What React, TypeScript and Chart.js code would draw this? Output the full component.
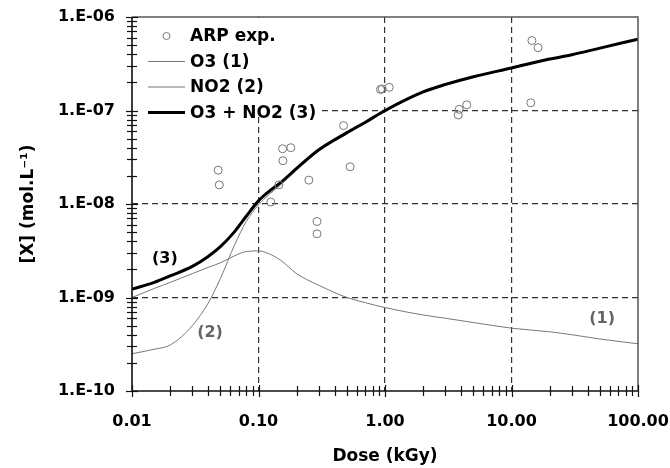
import React, { useEffect, useRef } from 'react';
import { Chart, registerables } from 'chart.js';

Chart.register(...registerables);

// ---- data ----
const doseGrid = [0.01, 0.015, 0.02, 0.03, 0.04, 0.05, 0.065, 0.08, 0.1, 0.12, 0.15, 0.2, 0.3, 0.5, 0.7, 1, 2, 3, 5, 10, 20, 30, 50, 100];
const o3Values = [1.0e-9, 1.25e-9, 1.45e-9, 1.8e-9, 2.1e-9, 2.35e-9, 2.8e-9, 3.1e-9, 3.15e-9, 2.95e-9, 2.5e-9, 1.8e-9, 1.35e-9, 1.0e-9, 8.8e-10, 7.8e-10, 6.5e-10, 6.0e-10, 5.4e-10, 4.7e-10, 4.3e-10, 4.0e-10, 3.6e-10, 3.2e-10];
const no2Values = [2.5e-10, 2.8e-10, 3.1e-10, 5.0e-10, 8.7e-10, 1.6e-9, 3.7e-9, 6.5e-9, 9.8e-9, 1.25e-8, 1.6e-8, 2.3e-8, 3.7e-8, 5.6e-8, 7.3e-8, 9.7e-8, 1.55e-7, 1.85e-7, 2.25e-7, 2.8e-7, 3.5e-7, 3.9e-7, 4.6e-7, 5.7e-7];
const totalValues = [1.23e-9, 1.45e-9, 1.7e-9, 2.15e-9, 2.75e-9, 3.5e-9, 5.1e-9, 7.4e-9, 1.08e-8, 1.35e-8, 1.7e-8, 2.4e-8, 3.8e-8, 5.8e-8, 7.5e-8, 1.0e-7, 1.58e-7, 1.9e-7, 2.3e-7, 2.85e-7, 3.55e-7, 3.95e-7, 4.65e-7, 5.8e-7];

const expDose = [0.048, 0.049, 0.125, 0.145, 0.155, 0.18, 0.156, 0.25, 0.29, 0.29, 0.47, 0.53, 0.92, 0.95, 1.08, 3.79, 3.86, 4.43, 14.2, 14.5, 16.2];
const expValues = [2.3e-8, 1.6e-8, 1.05e-8, 1.6e-8, 3.9e-8, 4.0e-8, 2.9e-8, 1.8e-8, 6.5e-9, 4.8e-9, 6.9e-8, 2.5e-8, 1.68e-7, 1.7e-7, 1.77e-7, 8.95e-8, 1.03e-7, 1.15e-7, 1.21e-7, 5.6e-7, 4.7e-7];

const xMajorTicks = [0.01, 0.1, 1, 10, 100];
const xTickLabels = ['0.01', '0.10', '1.00', '10.00', '100.00'];
const yMajorTicks = [1e-10, 1e-9, 1e-8, 1e-7, 1e-6];
const yTickLabels = ['1.E-10', '1.E-09', '1.E-08', '1.E-07', '1.E-06'];

const legendLabels = ['ARP exp.', 'O3 (1)', 'NO2 (2)', 'O3 + NO2 (3)'];
const curveLabels = ['(1)', '(2)', '(3)'];
const curveLabelDose = [52, 0.0414, 0.0182];
const curveLabelValue = [5.9e-10, 4.2e-10, 2.6e-9];
const curveLabelColors = ['#666', '#666', '#000'];

const xTitle = 'Dose (kGy)';
const yTitle = '[X] (mol.L\u207B\u00B9)';

const FONT = '"DejaVu Sans", sans-serif';
const GRAY = '#777';

function sameLog(a: number, b: number) {
  return Math.abs(Math.log10(a) - Math.log10(b)) < 1e-6;
}

const decorPlugin = {
  id: 'decor',
  beforeDatasetsDraw(chart: any) {
    const { ctx, chartArea } = chart;
    ctx.save();
    ctx.fillStyle = '#fff';
    ctx.fillRect(chartArea.left + 1, chartArea.top + 1, 188, 99);
    ctx.restore();
  },
  afterDraw(chart: any) {
    const { ctx, chartArea } = chart;
    const xs = chart.scales.x;
    const ys = chart.scales.y;
    const { left, right, top, bottom } = chartArea;
    ctx.save();
    // frame
    ctx.strokeStyle = '#555';
    ctx.lineWidth = 1.5;
    ctx.beginPath();
    ctx.moveTo(left, top);
    ctx.lineTo(right, top);
    ctx.lineTo(right, bottom);
    ctx.stroke();
    ctx.strokeStyle = '#111';
    ctx.lineWidth = 1.6;
    ctx.beginPath();
    ctx.moveTo(left, top);
    ctx.lineTo(left, bottom);
    ctx.lineTo(right, bottom);
    ctx.stroke();
    // tick marks crossing the axes
    ctx.lineWidth = 1.2;
    ctx.strokeStyle = '#111';
    for (let e = -2; e <= 2; e++) {
      for (let k = 1; k <= 9; k++) {
        const v = k * Math.pow(10, e);
        if (v < 0.0099 || v > 100.01) continue;
        const px = Math.round(xs.getPixelForValue(v)) + 0.5;
        const len = k === 1 ? 6 : 5;
        ctx.beginPath();
        ctx.moveTo(px, bottom - len);
        ctx.lineTo(px, bottom + len);
        ctx.stroke();
      }
    }
    for (let e = -10; e <= -6; e++) {
      for (let k = 1; k <= 9; k++) {
        const v = k * Math.pow(10, e);
        if (v < 0.99e-10 || v > 1.01e-6) continue;
        const py = Math.round(ys.getPixelForValue(v)) + 0.5;
        const len = k === 1 ? 6 : 5;
        ctx.beginPath();
        ctx.moveTo(left - len, py);
        ctx.lineTo(left + len, py);
        ctx.stroke();
      }
    }
    // legend
    ctx.font = 'bold 17px ' + FONT;
    ctx.textBaseline = 'middle';
    ctx.textAlign = 'left';
    ctx.fillStyle = '#000';
    const lx0 = left + 16;
    const lx1 = left + 53;
    const tx = left + 58;
    legendLabels.forEach((label, i) => {
      const y = top + 19 + i * 25.5;
      if (i === 0) {
        ctx.strokeStyle = GRAY;
        ctx.lineWidth = 1;
        ctx.beginPath();
        ctx.arc((lx0 + lx1) / 2, y, 3.5, 0, Math.PI * 2);
        ctx.stroke();
      } else {
        ctx.strokeStyle = i === 3 ? '#000' : GRAY;
        ctx.lineWidth = i === 3 ? 3 : 1;
        ctx.beginPath();
        ctx.moveTo(lx0, y);
        ctx.lineTo(lx1, y);
        ctx.stroke();
      }
      ctx.fillStyle = '#000';
      ctx.fillText(label, tx, y + 1);
    });
    // curve labels
    ctx.textAlign = 'center';
    ctx.font = 'bold 16px ' + FONT;
    curveLabels.forEach((label, i) => {
      ctx.fillStyle = curveLabelColors[i];
      ctx.fillText(label, xs.getPixelForValue(curveLabelDose[i]), ys.getPixelForValue(curveLabelValue[i]));
    });
    ctx.restore();
  },
};

export default function App() {
  const ref = useRef<HTMLCanvasElement | null>(null);
  useEffect(() => {
    document.body.style.margin = '0';
    const canvas = ref.current;
    if (!canvas) return;
    const toPts = (vals: number[]) => doseGrid.map((d, i) => ({ x: d, y: vals[i] }));
    const chart = new Chart(canvas, {
      type: 'line',
      data: {
        datasets: [
          {
            label: legendLabels[0],
            data: expDose.map((d, i) => ({ x: d, y: expValues[i] })),
            showLine: false,
            pointStyle: 'circle',
            pointRadius: 4,
            pointBorderWidth: 1,
            pointBorderColor: GRAY,
            pointBackgroundColor: 'rgba(255,255,255,0)',
            borderColor: GRAY,
            order: 0,
          },
          {
            label: legendLabels[1],
            data: toPts(o3Values),
            borderColor: GRAY,
            borderWidth: 1,
            pointRadius: 0,
            cubicInterpolationMode: 'monotone',
            fill: false,
            order: 3,
          },
          {
            label: legendLabels[2],
            data: toPts(no2Values),
            borderColor: GRAY,
            borderWidth: 1,
            pointRadius: 0,
            cubicInterpolationMode: 'monotone',
            fill: false,
            order: 2,
          },
          {
            label: legendLabels[3],
            data: toPts(totalValues),
            borderColor: '#000',
            borderWidth: 3,
            pointRadius: 0,
            cubicInterpolationMode: 'monotone',
            fill: false,
            order: 1,
          },
        ],
      },
      options: {
        responsive: false,
        animation: false,
        devicePixelRatio: 1,
        layout: { padding: { top: 17, right: 32, left: 0, bottom: 0 } },
        plugins: { legend: { display: false }, tooltip: { enabled: false } },
        scales: {
          x: {
            type: 'logarithmic',
            position: 'bottom',
            min: 0.01,
            max: 100,
            afterBuildTicks: (s: any) => {
              s.ticks = xMajorTicks.map((v) => ({ value: v, major: true }));
            },
            afterFit: (s: any) => {
              s.height = 77;
              s.paddingLeft = 0;
              s.paddingRight = 0;
              s.paddingTop = 0;
              s.paddingBottom = 0;
            },
            ticks: {
              autoSkip: false,
              maxRotation: 0,
              padding: 21,
              color: '#000',
              font: { family: FONT, size: 16, weight: 'bold' },
              callback: (v: any) => {
                const i = xMajorTicks.findIndex((t) => sameLog(t, Number(v)));
                return i >= 0 ? xTickLabels[i] : '';
              },
            },
            grid: {
              drawTicks: false,
              lineWidth: 1.2,
              color: (c: any) => {
                const v = c.tick ? c.tick.value : 0;
                return v > 0.011 && v < 99 ? '#333' : 'rgba(0,0,0,0)';
              },
            },
            border: { display: false, dash: [6, 4] },
            title: {
              display: true,
              text: xTitle,
              color: '#000',
              font: { family: FONT, size: 17, weight: 'bold' },
              padding: { top: 0, bottom: 1 },
            },
          },
          y: {
            type: 'logarithmic',
            position: 'left',
            min: 1e-10,
            max: 1e-6,
            afterBuildTicks: (s: any) => {
              s.ticks = yMajorTicks.map((v) => ({ value: v, major: true }));
            },
            afterFit: (s: any) => {
              s.width = 132;
              s.paddingLeft = 0;
              s.paddingRight = 0;
              s.paddingTop = 0;
              s.paddingBottom = 0;
            },
            ticks: {
              autoSkip: false,
              padding: 17,
              color: '#000',
              font: { family: FONT, size: 16, weight: 'bold' },
              callback: (v: any) => {
                const i = yMajorTicks.findIndex((t) => sameLog(t, Number(v)));
                return i >= 0 ? yTickLabels[i] : '';
              },
            },
            grid: {
              drawTicks: false,
              lineWidth: 1.2,
              color: (c: any) => {
                const v = c.tick ? c.tick.value : 0;
                return v > 1.1e-10 && v < 0.9e-6 ? '#333' : 'rgba(0,0,0,0)';
              },
            },
            border: { display: false, dash: [6, 4] },
            title: {
              display: true,
              text: yTitle,
              color: '#000',
              font: { family: FONT, size: 17, weight: 'bold' },
              padding: { top: 18, bottom: 0 },
            },
          },
        },
      },
      plugins: [decorPlugin],
    } as any);
    return () => chart.destroy();
  }, []);
  return (
    <div style={{ position: 'fixed', left: 0, top: 0, width: 670, height: 468, background: '#fff' }}>
      <canvas ref={ref} width={670} height={468} style={{ display: 'block' }} />
    </div>
  );
}
